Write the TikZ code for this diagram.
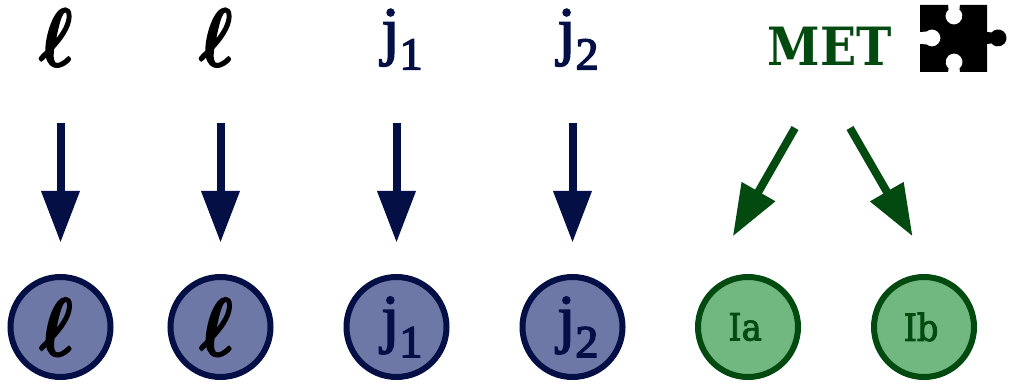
\documentclass[tikz,border=0pt]{standalone}
\usepackage{fix-cm}
\usepackage{bm}
\usepackage{graphicx}
\usepackage{fontspec}
\usetikzlibrary{arrows.meta}
\newfontfamily\metfont{DejaVu Serif Condensed}
\newfontfamily\jetface{Liberation Serif}
\definecolor{navy}{HTML}{030F45}
\definecolor{navyfill}{HTML}{6D78A6}
\definecolor{leaf}{HTML}{034A10}
\definecolor{leaffill}{HTML}{70B880}
% dikkere letters
\newcommand{\heavy}[2]{\special{pdf:code q 2 Tr #1 w}#2\special{pdf:code Q}}
\newcommand{\lepname}{\scalebox{.88}[1.03]{\heavy{1.7}{$\bm{\ell}$}}}
\newcommand{\jetname}[1]{{\jetface\heavy{1.3}{j\lower14.5pt\hbox{\fontsize{39}{39}\selectfont #1}}}}
\begin{document}
\begin{tikzpicture}[x=0.3mm,y=0.3mm, line cap=butt]
  % stijlen
  \tikzset{
    toplabel/.style={inner sep=0pt, anchor=base, text height=17.4mm, text depth=17.1mm},
    jetlabel/.style={toplabel, text depth=21mm, text=navy},
    object/.style={circle, minimum size=30mm, inner sep=0pt, line width=1.8mm},
    lepton/.style={object, draw=navy, fill=navyfill},
    jet/.style={object, draw=navy, fill=navyfill, text=navy},
    fatjet/.style={object, draw=leaf, fill=leaffill, text=leaf},
    arrowN/.style={draw=navy, line width=2.4mm, -{Triangle[length=15.5mm,width=11mm]}, shorten >=9.4mm},
    arrowG/.style={draw=leaf, line width=2.4mm, -{Triangle[length=15.5mm,width=11mm]}},
    ellfont/.style={font=\fontsize{68}{68}\selectfont},
    jetfont/.style={font=\fontsize{56}{56}\selectfont},
    smallfont/.style={font=\fontsize{32}{32}\selectfont\metfont}
  }
  \useasboundingbox (0,0) rectangle (1009,384);
  % bovenste rij
  \node[toplabel, ellfont] (lepA) at (56,318) {\lepname};
  \node[toplabel, ellfont] (lepB) at (216,318) {\lepname};
  \node[jetlabel, jetfont] (jetA) at (402,331.5) {\jetname{1}};
  \node[jetlabel, jetfont] (jetB) at (578,331.5) {\jetname{2}};
  \node[inner sep=0pt, anchor=base, text=leaf, font=\fontsize{45}{45}\selectfont\metfont\bfseries] (met) at (829.5,318) {MET};
  % onderste rij
  \node[lepton, ellfont] (cirA) at (60.5,57) {\kern-7pt\lepname};
  \node[lepton, ellfont] (cirB) at (220.5,57) {\kern-7pt\lepname};
  \node[jet, jetfont] (cirC) at (396.5,57) {\kern9pt\jetname{1}};
  \node[jet, jetfont] (cirD) at (572.5,57) {\kern9pt\jetname{2}};
  \node[fatjet, smallfont] (cirE) at (748,57) {\heavy{0.7}{Ia}\kern5pt};
  \node[fatjet, smallfont] (cirF) at (924,57) {\heavy{0.7}{Ib}\kern5pt};
  % pijlen
  \draw[arrowN] (lepA.south -| cirA) -- (cirA);
  \draw[arrowN] (lepB.south -| cirB) -- (cirB);
  \draw[arrowN] (jetA.south -| cirC) -- (cirC);
  \draw[arrowN] (jetB.south -| cirD) -- (cirD);
  \coordinate (metL) at (795,256);
  \coordinate (metR) at (850,256);
  \coordinate (tipL) at (732.8,147.6);
  \coordinate (tipR) at (912.6,147.6);
  \draw[arrowG] (metL) -- (tipL);
  \draw[arrowG] (metR) -- (tipR);
  % puzzelstuk
  \fill (920,379) -- (948,379) -- (948.5,374.5) arc[start angle=130,end angle=410,radius=8.5]
    -- (960,379) -- (987,379) -- (987,352) -- (991.5,351.5) arc[start angle=140,end angle=-140,radius=8.5]
    -- (987,340) -- (987,312) -- (960,312) -- (959.5,315.5) arc[start angle=-50,end angle=230,radius=8.5]
    -- (948,312) -- (920,312) -- (920,340) -- (926.5,339.5) arc[start angle=-130,end angle=130,radius=8.5]
    -- (920,352) -- cycle;
\end{tikzpicture}
\end{document}
